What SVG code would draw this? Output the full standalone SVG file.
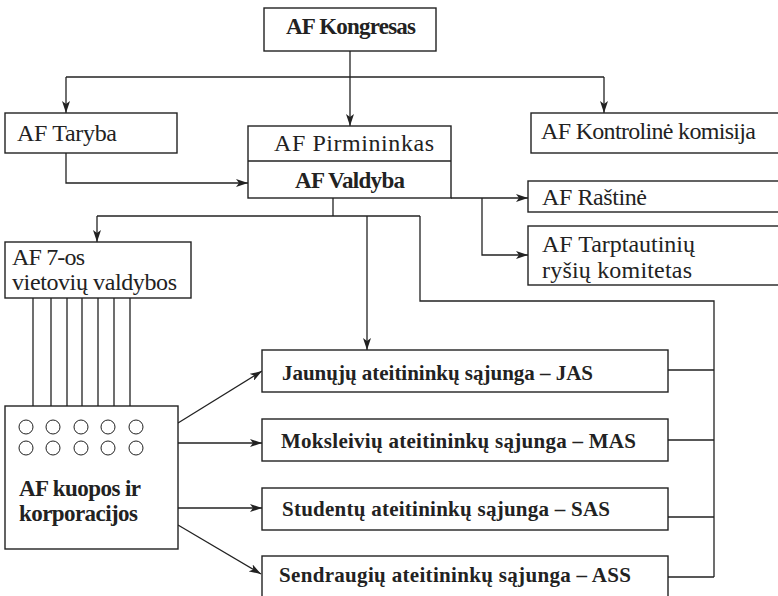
<svg xmlns="http://www.w3.org/2000/svg" width="778" height="596" viewBox="0 0 778 596">
<style>
.box{fill:#fff;stroke:#222;stroke-width:1.4}
.ln{fill:none;stroke:#222;stroke-width:1.3}
.t{font-family:"Liberation Serif","DejaVu Serif",serif;font-size:24px;fill:#222}
.b{font-family:"Liberation Serif","DejaVu Serif",serif;font-size:23px;font-weight:bold;fill:#222}
.s{font-family:"Liberation Serif","DejaVu Serif",serif;font-size:21px;font-weight:bold;fill:#222}
.c{fill:#fff;stroke:#222;stroke-width:1}
</style>
<defs>
<marker id="ar" viewBox="0 0 12 8" refX="12" refY="4" markerWidth="12" markerHeight="8" markerUnits="userSpaceOnUse" orient="auto">
<path d="M0,0 L12,4 L0,8 L3,4 z" fill="#222"/>
</marker>
</defs>
<rect width="778" height="596" fill="#fff"/>
<g id="connectors">
<path class="ln" d="M350,51 V77"/>
<path class="ln" d="M66,77 H604"/>
<path class="ln" d="M66,77 V113" marker-end="url(#ar)"/>
<path class="ln" d="M350,77 V126" marker-end="url(#ar)"/>
<path class="ln" d="M604,77 V113" marker-end="url(#ar)"/>
<path class="ln" d="M66,153 V183 H248" marker-end="url(#ar)"/>
<path class="ln" d="M451,198 H528" marker-end="url(#ar)"/>
<path class="ln" d="M482,198 V255 H528" marker-end="url(#ar)"/>
<path class="ln" d="M333,198 V216"/>
<path class="ln" d="M97,216 H420"/>
<path class="ln" d="M97,216 V242" marker-end="url(#ar)"/>
<path class="ln" d="M367,216 V350" marker-end="url(#ar)"/>
<path class="ln" d="M420,216 V301 H714 V577"/>
<path class="ln" d="M668,370 H714 M668,440 H714 M668,517 H714 M668,577 H714"/>
<path class="ln" d="M33,298 V406 M51,298 V406 M67,298 V406 M82,298 V406 M98,298 V406 M114,298 V406 M130,298 V406"/>
<path class="ln" d="M178,423 L262,371" marker-end="url(#ar)"/>
<path class="ln" d="M178,443 H262" marker-end="url(#ar)"/>
<path class="ln" d="M178,508 H262" marker-end="url(#ar)"/>
<path class="ln" d="M178,525 L261,574" marker-end="url(#ar)"/>
</g>
<g id="kongresas">
<rect class="box" x="264" y="8" width="172" height="43"/>
<text class="b" x="286" y="34" textLength="130">AF Kongresas</text>
</g>
<g id="taryba">
<rect class="box" x="5" y="113" width="172" height="40"/>
<text class="t" x="17" y="141" textLength="100">AF Taryba</text>
</g>
<g id="pirmininkas">
<rect class="box" x="248" y="126" width="203" height="72"/>
<line class="ln" x1="248" y1="161" x2="451" y2="161"/>
<text class="t" x="274" y="151" textLength="160">AF Pirmininkas</text>
<text class="b" x="295" y="188" textLength="110">AF Valdyba</text>
</g>
<g id="kontroline">
<rect class="box" x="531" y="113" width="252" height="40"/>
<text class="t" x="541" y="139" textLength="215">AF Kontrolinė komisija</text>
</g>
<g id="rastine">
<rect class="box" x="528" y="181" width="255" height="31"/>
<text class="t" x="542" y="205" textLength="105">AF Raštinė</text>
</g>
<g id="tarptautiniu">
<rect class="box" x="528" y="226" width="255" height="59"/>
<text class="t" x="542" y="252" textLength="153">AF Tarptautinių</text>
<text class="t" x="542" y="278" textLength="150">ryšių komitetas</text>
</g>
<g id="vietoviu">
<rect class="box" x="5" y="242" width="186" height="56"/>
<text class="t" x="12" y="265" textLength="73">AF 7-os</text>
<text class="t" x="12" y="290" textLength="165">vietovių valdybos</text>
</g>
<g id="kuopos">
<rect class="box" x="5" y="406" width="173" height="143"/>
<circle class="c" cx="26" cy="427" r="7"/><circle class="c" cx="53" cy="427" r="7"/><circle class="c" cx="81" cy="427" r="7"/><circle class="c" cx="108" cy="427" r="7"/><circle class="c" cx="136" cy="427" r="7"/>
<circle class="c" cx="26" cy="448" r="7"/><circle class="c" cx="53" cy="448" r="7"/><circle class="c" cx="81" cy="448" r="7"/><circle class="c" cx="108" cy="448" r="7"/><circle class="c" cx="136" cy="448" r="7"/>
<text class="b" x="19" y="496" textLength="122">AF kuopos ir</text>
<text class="b" x="19" y="521" textLength="119">korporacijos</text>
</g>
<g id="jas">
<rect class="box" x="262" y="350" width="406" height="42"/>
<text class="s" x="282" y="380" textLength="311">Jaunųjų ateitininkų sąjunga – JAS</text>
</g>
<g id="mas">
<rect class="box" x="262" y="419" width="406" height="42"/>
<text class="s" x="281" y="448" textLength="355">Moksleivių ateitininkų sąjunga – MAS</text>
</g>
<g id="sas">
<rect class="box" x="262" y="488" width="406" height="42"/>
<text class="s" x="282" y="516" textLength="328">Studentų ateitininkų sąjunga – SAS</text>
</g>
<g id="ass">
<rect class="box" x="262" y="556" width="406" height="42"/>
<text class="s" x="279" y="582" textLength="352">Sendraugių ateitininkų sąjunga – ASS</text>
</g>
</svg>
